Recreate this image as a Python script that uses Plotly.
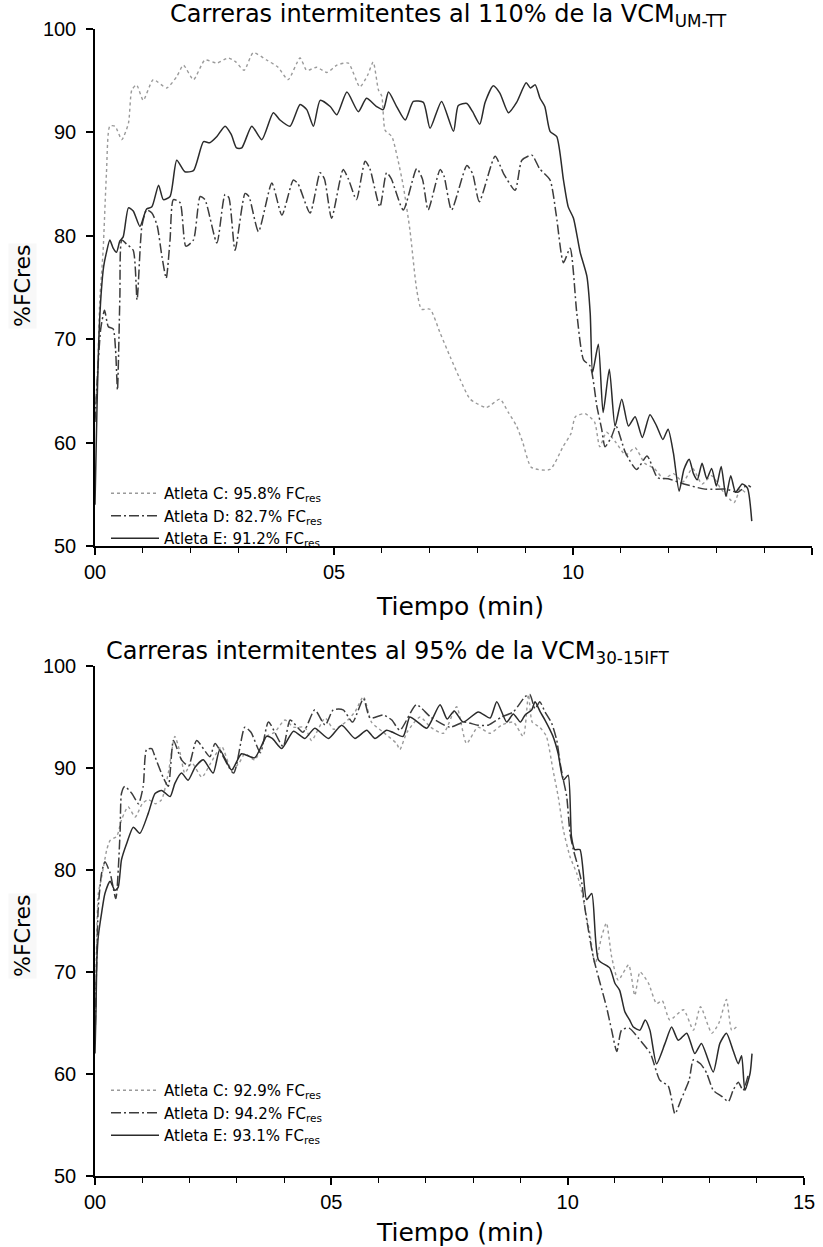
import plotly.graph_objects as go

W, H = 823, 1247

# ---------------- data (time in min, %FCres) ----------------
x_tickvals = [0, 5, 10, 15]
x_ticktext = ["00", "05", "10", "15"]
y_tickvals = [50, 60, 70, 80, 90, 100]

title_top = "Carreras intermitentes al 110% de la VCM<sub>UM-TT</sub>"
title_bot = "Carreras intermitentes al 95% de la VCM<sub>30-15IFT</sub>"
x_title = "Tiempo (min)"
y_title = "%FCres"

names_top = ["Atleta C: 95.8% FC<sub>res</sub>",
             "Atleta D: 82.7% FC<sub>res</sub>",
             "Atleta E: 91.2% FC<sub>res</sub>"]
names_bot = ["Atleta C: 92.9% FC<sub>res</sub>",
             "Atleta D: 94.2% FC<sub>res</sub>",
             "Atleta E: 93.1% FC<sub>res</sub>"]

top_C = [(0,63),(0.05,66),(0.10,73.8),(0.17,78.6),(0.24,86.1),(0.31,90.6),(0.42,90.6),(0.56,89.3),
         (0.70,90.9),(0.77,94.1),(0.87,94.6),(1.01,93.1),(1.22,95.1),(1.50,94.3),(1.71,95.4),(1.85,96.5),
         (2.06,95.1),(2.30,97.0),(2.55,96.7),(2.79,97.2),(2.95,96.8),(3.12,96.0),(3.31,97.7),(3.59,97.0),
         (3.83,96.3),(4.04,95.1),(4.29,97.2),(4.43,96.0),(4.64,96.3),(4.85,95.8),(5.06,96.5),(5.30,96.7),
         (5.54,94.4),(5.70,95.5),(5.82,96.8),(5.93,94.1),(6.00,93.5),(6.07,90.2),(6.21,89.6),(6.33,87.5),
         (6.45,84.8),(6.59,80.5),(6.73,74.8),(6.83,72.9),(7.01,72.9),(7.22,70.6),(7.43,68.3),(7.64,66.1),
         (7.85,64.2),(8.19,63.4),(8.47,64.2),(8.65,62.9),(8.82,61.6),(8.95,60.0),(9.13,57.6),(9.52,57.4),
         (9.79,59.6),(9.96,60.9),(10.05,62.5),(10.25,62.8),(10.45,62.0),(10.56,59.6),(10.70,61.0),(10.90,60.0),
         (11.10,58.8),(11.30,59.5),(11.50,58.0),(11.70,57.5),(11.90,56.5),(12.10,57.0),(12.30,56.2),(12.50,57.5),
         (12.70,56.0),(12.90,56.8),(13.10,55.5),(13.37,54.2),(13.50,55.5),(13.60,55.2)]

top_D = [(0,62),(0.05,66.4),(0.12,71.0),(0.20,72.8),(0.28,71.2),(0.38,71.0),(0.43,69.0),(0.47,65.1),
         (0.52,74.0),(0.56,79.6),(0.66,79.2),(0.80,78.6),(0.88,73.8),(0.98,80.9),(1.08,82.5),(1.19,82.2),
         (1.30,81.0),(1.40,78.0),(1.49,75.9),(1.57,79.6),(1.64,83.5),(1.78,83.2),(1.90,79.0),(2.06,79.6),
         (2.20,83.8),(2.30,83.5),(2.55,79.3),(2.72,84.0),(2.80,83.7),(2.93,78.6),(3.14,84.1),(3.22,83.8),
         (3.42,80.4),(3.70,85.1),(3.91,82.0),(4.15,85.4),(4.25,85.0),(4.50,82.2),(4.71,86.1),(4.80,85.5),
         (4.95,81.7),(5.19,86.4),(5.30,85.5),(5.47,83.5),(5.65,87.2),(5.75,86.5),(5.96,82.8),(6.10,86.1),
         (6.20,85.5),(6.45,82.5),(6.73,86.5),(6.85,85.5),(6.97,82.5),(7.22,86.4),(7.30,85.8),(7.46,82.5),
         (7.78,86.8),(7.90,86.0),(8.04,83.3),(8.37,87.7),(8.55,86.0),(8.79,84.4),(8.93,87.3),(9.14,87.8),
         (9.30,86.5),(9.52,85.4),(9.65,82.0),(9.80,77.4),(9.94,78.8),(10.08,72.5),(10.22,68.0),(10.36,67.4),
         (10.50,63.5),(10.60,61.3),(10.67,59.6),(10.80,60.5),(10.90,61.6),(11.10,59.0),(11.33,57.4),(11.55,58.7),
         (11.77,56.6),(11.99,56.5),(12.32,56.0),(12.76,55.5),(13.20,55.5),(13.45,55.2),(13.65,55.9),(13.72,55.7)]

top_E = [(0,54),(0.04,63),(0.08,70),(0.13,74.5),(0.18,77),(0.24,78.4),(0.31,79.6),(0.38,78.8),(0.45,78.4),
         (0.52,79.5),(0.59,79.9),(0.70,82.7),(0.80,82.4),(0.94,80.9),(1.08,82.6),(1.19,82.8),(1.33,84.9),
         (1.43,83.5),(1.57,83.8),(1.71,87.3),(1.88,86.2),(2.06,86.3),(2.27,89.1),(2.40,89.0),(2.55,89.6),
         (2.72,90.6),(2.85,89.8),(2.96,88.5),(3.07,88.5),(3.28,90.6),(3.49,89.3),(3.73,91.9),(3.87,91.2),
         (4.08,90.6),(4.29,92.7),(4.43,92.2),(4.57,90.6),(4.71,93.1),(4.92,92.5),(5.06,91.7),(5.27,93.9),
         (5.51,92.0),(5.68,93.3),(5.89,92.5),(6.03,92.2),(6.14,93.9),(6.31,92.5),(6.49,91.2),(6.66,93.0),
         (6.87,92.9),(7.01,90.4),(7.25,93.0),(7.50,90.1),(7.60,92.6),(7.78,92.8),(7.90,92.0),(8.05,90.8),
         (8.16,92.9),(8.33,94.5),(8.47,93.8),(8.65,91.9),(8.82,92.9),(9.02,94.8),(9.11,94.3),(9.21,94.6),
         (9.31,93.3),(9.41,92.5),(9.52,90.1),(9.66,89.6),(9.80,85.4),(9.90,82.8),(10.01,81.7),(10.15,78.4),
         (10.29,76.1),(10.36,72.5),(10.41,66.8),(10.53,69.5),(10.63,62.9),(10.76,67.1),(10.88,61.6),(11.02,64.2),
         (11.16,61.6),(11.30,62.5),(11.45,60.5),(11.61,62.7),(11.75,61.6),(11.88,60.3),(11.99,61.3),(12.10,59.0),
         (12.22,55.3),(12.32,57.4),(12.43,58.4),(12.52,57.0),(12.60,56.4),(12.70,58.0),(12.80,56.5),(12.90,57.5),
         (13.00,55.8),(13.10,57.7),(13.20,54.8),(13.30,56.8),(13.40,55.2),(13.54,56.0),(13.65,55.6),(13.74,52.4)]

bot_C = [(0,64),(0.03,72),(0.07,77.7),(0.14,79.3),(0.25,82.0),(0.32,82.9),(0.46,83.3),(0.56,84.9),(0.70,86.2),
         (0.85,85.2),(1.00,86.5),(1.13,86.9),(1.28,86.5),(1.41,86.9),(1.55,89.5),(1.69,93.1),(1.80,91.5),
         (1.90,89.5),(2.05,90.5),(2.26,89.1),(2.45,90.5),(2.68,92.1),(2.89,89.8),(3.05,90.5),(3.17,91.4),
         (3.38,90.8),(3.63,93.1),(3.80,93.5),(4.02,94.7),(4.20,94.0),(4.44,94.0),(4.58,92.7),(4.87,94.9),
         (5.05,93.8),(5.30,94.5),(5.50,95.5),(5.68,97.0),(5.85,94.5),(6.10,93.5),(6.38,92.4),(6.45,91.8),
         (6.60,93.5),(6.88,95.0),(7.10,94.0),(7.37,93.4),(7.65,96.0),(7.86,92.4),(8.10,94.0),(8.36,93.4),
         (8.60,94.2),(8.85,94.5),(9.06,93.1),(9.17,97.2),(9.25,94.5),(9.41,94.0),(9.55,93.1),(9.69,89.8),
         (9.80,87.2),(9.91,83.9),(10.05,81.3),(10.19,79.7),(10.29,78.0),(10.40,75.4),(10.47,73.8),(10.58,70.8),
         (10.72,73.5),(10.82,74.8),(10.93,71.5),(11.07,69.2),(11.29,70.7),(11.42,67.7),(11.53,70.0),(11.71,68.9),
         (11.88,66.9),(12.00,67.2),(12.16,65.3),(12.45,66.3),(12.66,64.3),(12.81,66.6),(13.05,64.0),(13.20,65.0),
         (13.36,67.3),(13.47,64.3),(13.57,64.6)]

bot_D = [(0,63),(0.03,70),(0.07,76.4),(0.14,79.7),(0.21,80.8),(0.32,79.7),(0.44,77.2),(0.53,83.6),(0.56,87.5),
         (0.63,88.2),(0.78,87.5),(0.92,86.5),(1.02,88.2),(1.09,91.8),(1.20,91.9),(1.27,91.1),(1.44,89.1),
         (1.55,88.2),(1.66,92.7),(1.83,90.8),(1.98,90.2),(2.15,92.7),(2.43,91.1),(2.54,92.4),(2.93,89.5),
         (3.17,94.0),(3.30,93.5),(3.50,91.5),(3.67,94.5),(3.98,92.1),(4.13,94.7),(4.40,93.5),(4.65,95.7),
         (4.87,94.2),(5.04,95.7),(5.25,95.7),(5.45,94.5),(5.68,96.8),(5.82,94.9),(6.10,95.2),(6.28,94.7),
         (6.45,93.7),(6.80,96.2),(7.10,95.0),(7.51,94.0),(7.80,94.5),(8.10,94.2),(8.32,94.2),(8.60,95.0),
         (8.85,95.5),(9.10,97.0),(9.20,97.2),(9.31,95.8),(9.41,96.5),(9.52,95.5),(9.66,94.4),(9.77,92.7),
         (9.84,90.5),(9.91,88.8),(9.98,87.2),(10.05,83.6),(10.12,82.0),(10.22,80.3),(10.30,78.7),(10.37,76.1),
         (10.54,71.5),(10.82,66.6),(10.93,64.3),(11.04,62.2),(11.14,64.3),(11.30,64.5),(11.50,63.5),(11.75,62.0),
         (11.95,59.4),(12.13,58.8),(12.27,56.1),(12.40,57.5),(12.57,59.4),(12.66,61.4),(12.81,61.0),(12.94,60.1),
         (13.08,58.4),(13.26,57.8),(13.40,57.3),(13.50,58.4),(13.61,59.2),(13.71,58.4),(13.82,59.9)]

bot_E = [(0,62),(0.02,66),(0.04,71.2),(0.07,73.5),(0.14,75.8),(0.21,77.7),(0.32,78.9),(0.42,78.0),(0.49,78.3),
         (0.56,81.0),(0.67,82.6),(0.81,84.2),(0.95,83.6),(1.13,85.6),(1.27,87.5),(1.41,87.8),(1.59,87.2),
         (1.69,88.5),(1.83,89.5),(1.97,88.8),(2.12,90.1),(2.29,90.8),(2.50,89.5),(2.64,91.8),(2.89,89.8),
         (3.10,91.4),(3.38,91.0),(3.63,93.1),(3.75,92.9),(3.95,91.9),(4.20,93.6),(4.44,92.9),(4.65,93.9),
         (4.94,92.9),(5.22,94.2),(5.50,92.9),(5.75,93.7),(5.92,92.9),(6.17,93.7),(6.30,93.5),(6.52,93.1),
         (6.66,95.0),(6.80,94.6),(7.02,93.9),(7.30,96.2),(7.45,94.8),(7.60,95.6),(7.79,94.5),(8.11,95.5),
         (8.36,94.9),(8.50,96.5),(8.71,94.5),(8.85,95.3),(9.00,94.5),(9.10,95.2),(9.24,95.7),(9.31,96.5),
         (9.42,95.5),(9.52,94.7),(9.69,93.1),(9.80,91.4),(9.91,88.8),(10.01,89.3),(10.08,83.3),(10.15,82.0),
         (10.26,82.0),(10.40,77.1),(10.51,77.7),(10.65,71.2),(10.89,70.4),(11.00,68.9),(11.10,68.2),(11.21,66.1),
         (11.31,65.3),(11.39,64.6),(11.53,64.3),(11.64,65.3),(11.74,64.3),(11.88,61.0),(12.06,63.0),(12.20,64.6),
         (12.34,63.3),(12.52,64.0),(12.69,62.0),(12.83,63.0),(13.08,60.2),(13.22,63.0),(13.36,64.0),(13.50,62.3),
         (13.61,61.0),(13.68,61.8),(13.75,58.4),(13.86,60.1),(13.90,62.0)]

# ---------------- styles ----------------
styles = [
    dict(color="#9a9a9a", width=1.4, dash="dot"),
    dict(color="#3c3c3c", width=1.5, dash="10px,3px,2px,3px"),
    dict(color="#2b2b2b", width=1.5, dash="solid"),
]
FONT = "Liberation Sans, Arial, sans-serif"
WIDE = "DejaVu Sans, Liberation Sans, sans-serif"

fig = go.Figure()
for series, name, st in zip([top_C, top_D, top_E], names_top, styles):
    fig.add_trace(go.Scatter(x=[p[0] for p in series], y=[p[1] for p in series], mode="lines",
                             name=name, line=dict(shape="spline", smoothing=0.6, **st),
                             xaxis="x", yaxis="y", legend="legend"))
for series, name, st in zip([bot_C, bot_D, bot_E], names_bot, styles):
    fig.add_trace(go.Scatter(x=[p[0] for p in series], y=[p[1] for p in series], mode="lines",
                             name=name, line=dict(shape="spline", smoothing=0.6, **st),
                             xaxis="x2", yaxis="y2", legend="legend2"))

def xax(dom, anchor):
    return dict(domain=dom, anchor=anchor, range=[0, 15], tickvals=x_tickvals, ticktext=x_ticktext,
                ticks="outside", ticklen=7, tickwidth=1.5, tickcolor="black", automargin=False,
                showline=True, linecolor="black", linewidth=1.5, showgrid=False, zeroline=False,
                minor=dict(dtick=1, ticks="outside", ticklen=5, tickwidth=1.2, tickcolor="black", showgrid=False),
                tickfont=dict(family=FONT, size=20, color="black"), fixedrange=True)

def yax(dom, anchor):
    return dict(domain=dom, anchor=anchor, range=[50, 100], tickvals=y_tickvals, automargin=False,
                ticks="outside", ticklen=7, tickwidth=1.5, tickcolor="black", ticklabelstandoff=6,
                showline=True, linecolor="black", linewidth=1.5, showgrid=False, zeroline=False,
                tickfont=dict(family=FONT, size=20, color="black"), fixedrange=True)

top_dom = [1 - 546 / H, 1 - 29 / H]
bot_dom = [1 - 1176 / H, 1 - 666 / H]

legend_common = dict(xanchor="left", yanchor="top", bgcolor="rgba(0,0,0,0)",
                     font=dict(family=WIDE, size=15, color="black"), tracegroupgap=0,
                     itemwidth=48)

fig.update_layout(
    width=W, height=H, margin=dict(l=0, r=0, t=0, b=0, autoexpand=False),
    paper_bgcolor="white", plot_bgcolor="white",
    xaxis=xax([95 / W, 812 / W], "y"),
    yaxis=yax(top_dom, "x"),
    xaxis2=xax([95 / W, 804 / W], "y2"),
    yaxis2=yax(bot_dom, "x2"),
    legend=dict(x=106 / W, y=1 - 477 / H, **legend_common),
    legend2=dict(x=106 / W, y=1 - 1074 / H, **legend_common),
    showlegend=True,
    font=dict(family=FONT, color="black"),
)

ann = [
    dict(text=title_top, x=449 / W, y=1 - 15 / H, size=24, fam=WIDE, bg=None),
    dict(text=title_bot, x=388 / W, y=1 - 652 / H, size=24, fam=WIDE, bg=None),
    dict(text=x_title, x=460 / W, y=1 - 606 / H, size=25, fam=WIDE, bg=None),
    dict(text=x_title, x=460 / W, y=1 - 1232 / H, size=25, fam=WIDE, bg=None),
    dict(text=y_title, x=22 / W, y=1 - 286 / H, size=22, fam=WIDE, bg="#f8f8f8", ang=-90),
    dict(text=y_title, x=22 / W, y=1 - 936 / H, size=22, fam=WIDE, bg="#f8f8f8", ang=-90),
]
for a in ann:
    fig.add_annotation(xref="paper", yref="paper", showarrow=False, xanchor="center", yanchor="middle",
                       text=a["text"], x=a["x"], y=a["y"], textangle=a.get("ang", 0),
                       bgcolor=a["bg"] if a["bg"] else "rgba(0,0,0,0)",
                       font=dict(family=a["fam"], color="black", size=a["size"]))

fig.write_html("out.html")
